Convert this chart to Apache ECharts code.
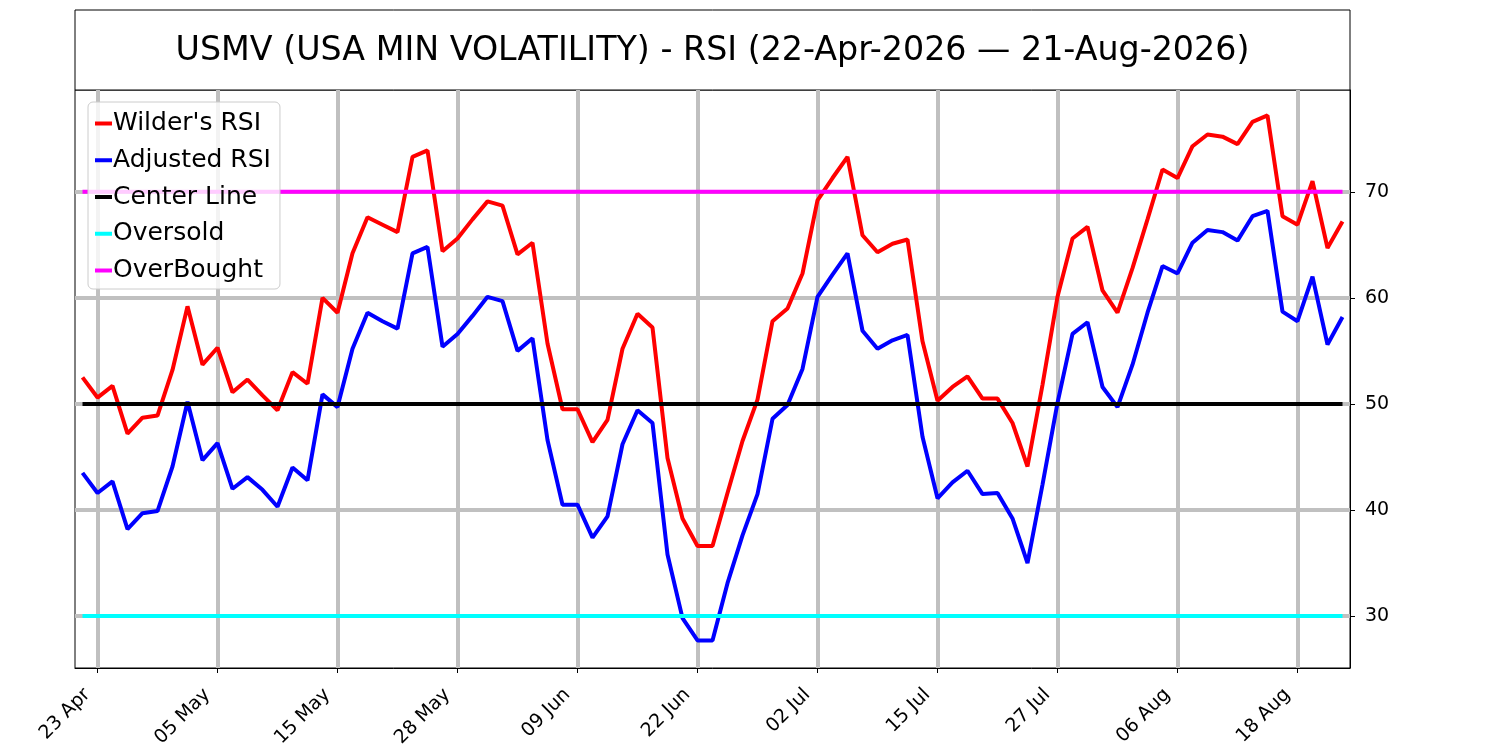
<!DOCTYPE html>
<html lang="en">
  <head>
    <meta charset="UTF-8" />
    <title>USMV RSI</title>
    <style>
      html, body { margin: 0; padding: 0; background: #fff; }
      #rsiChart { width: 1500px; height: 750px; }
    </style>
  </head>
  <body>
    <div id="rsiChart"></div>
    <script src="https://cdn.jsdelivr.net/npm/echarts@6/dist/echarts.min.js"></script>
    <script>
      // trading days 22 Apr - 21 Aug 2026
      var dates = [
        "22 Apr", "23 Apr", "24 Apr", "27 Apr", "28 Apr", "29 Apr", "30 Apr",
        "01 May", "04 May", "05 May", "06 May", "07 May", "08 May", "11 May",
        "12 May", "13 May", "14 May", "15 May", "18 May", "19 May", "20 May",
        "21 May", "22 May", "26 May", "27 May", "28 May", "29 May",
        "01 Jun", "02 Jun", "03 Jun", "04 Jun", "05 Jun", "08 Jun", "09 Jun",
        "10 Jun", "11 Jun", "12 Jun", "15 Jun", "16 Jun", "17 Jun", "18 Jun",
        "22 Jun", "23 Jun", "24 Jun", "25 Jun", "26 Jun", "29 Jun", "30 Jun",
        "01 Jul", "02 Jul", "06 Jul", "07 Jul", "08 Jul", "09 Jul", "10 Jul",
        "13 Jul", "14 Jul", "15 Jul", "16 Jul", "17 Jul", "20 Jul", "21 Jul",
        "22 Jul", "23 Jul", "24 Jul", "27 Jul", "28 Jul", "29 Jul", "30 Jul",
        "31 Jul", "03 Aug", "04 Aug", "05 Aug", "06 Aug", "07 Aug", "10 Aug",
        "11 Aug", "12 Aug", "13 Aug", "14 Aug", "17 Aug", "18 Aug", "19 Aug",
        "20 Aug", "21 Aug"
      ];

      var wildersRsi = [
        52.5, 50.6, 51.7, 47.2, 48.7, 48.9, 53.2, 59.2, 53.7, 55.3,
        51.1, 52.3, 50.8, 49.4, 53.0, 51.9, 60.0, 58.6, 64.2, 67.6,
        66.9, 66.2, 73.3, 73.9, 64.4, 65.6, 67.4, 69.1, 68.7, 64.1,
        65.2, 55.7, 49.5, 49.5, 46.4, 48.5, 55.2, 58.5, 57.2, 44.9,
        39.2, 36.6, 36.6, 41.6, 46.5, 50.4, 57.8, 59.0, 62.3, 69.2,
        71.3, 73.3, 65.9, 64.3, 65.1, 65.5, 55.9, 50.3, 51.6, 52.6,
        50.5, 50.5, 48.2, 44.1, 51.8, 60.1, 65.6, 66.7, 60.7, 58.6,
        62.8, 67.4, 72.1, 71.3, 74.3, 75.4, 75.2, 74.5, 76.6, 77.2,
        67.7, 66.9, 71.0, 64.7, 67.2
      ];

      var adjustedRsi = [
        43.5, 41.6, 42.7, 38.2, 39.7, 39.9, 44.1, 50.2, 44.7, 46.3,
        42.0, 43.1, 41.9, 40.3, 44.0, 42.8, 50.9, 49.7, 55.2, 58.6,
        57.8, 57.1, 64.2, 64.8, 55.4, 56.6, 58.3, 60.1, 59.7, 55.0,
        56.2, 46.6, 40.5, 40.5, 37.4, 39.4, 46.2, 49.4, 48.2, 35.8,
        29.8, 27.7, 27.7, 33.1, 37.6, 41.5, 48.6, 49.9, 53.3, 60.1,
        62.2, 64.2, 56.9, 55.2, 56.0, 56.5, 46.9, 41.1, 42.6, 43.7,
        41.5, 41.6, 39.2, 35.0, 42.4, 50.1, 56.6, 57.7, 51.6, 49.7,
        53.7, 58.6, 63.0, 62.3, 65.2, 66.4, 66.2, 65.4, 67.7, 68.2,
        58.7, 57.8, 62.0, 55.6, 58.2
      ];

      var centerLevel = 50;
      var oversoldLevel = 30;
      var overboughtLevel = 70;

      var fontFamily = "DejaVu Sans";
      var gridGray = "#c0c0c0";

      // a date tick every 8 trading days, starting with 23 Apr
      function everyEighth(index) {
        return index % 8 === 1;
      }

      function levelLine(level) {
        return dates.map(function () {
          return level;
        });
      }

      function lineSeries(name, data, color) {
        return {
          name: name,
          type: "line",
          data: data,
          showSymbol: false,
          symbol: "none",
          silent: true,
          lineStyle: { color: color, width: 4 },
          itemStyle: { color: color },
        };
      }

      var chart = echarts.init(document.getElementById("rsiChart"));

      var option = {
        animation: false,
        backgroundColor: "#fff",
        textStyle: { fontFamily: fontFamily },
        graphic: [
          {
            type: "rect",
            shape: { x: 75, y: 10, width: 1275, height: 80 },
            style: { fill: "#fff", stroke: "#000", lineWidth: 1 },
            z: 0,
          },
          {
            type: "text",
            x: 712.5,
            y: 51,
            style: {
              text: "USMV (USA MIN VOLATILITY) - RSI (22-Apr-2026 \u2014 21-Aug-2026)",
              fontSize: 33.3,
              fontFamily: fontFamily,
              fill: "#000",
              align: "center",
              verticalAlign: "middle",
            },
            z: 1,
          },
        ],
        legend: {
          orient: "vertical",
          left: 88,
          top: 102,
          padding: [9, 9, 6, 7],
          itemWidth: 17,
          itemHeight: 4,
          itemGap: 11.75,
          icon: "rect",
          backgroundColor: "rgba(255,255,255,0.8)",
          borderColor: "#cccccc",
          borderWidth: 1,
          borderRadius: 5,
          textStyle: {
            fontSize: 25,
            lineHeight: 25,
            color: "#000",
            fontFamily: fontFamily,
            padding: [0, 0, 0, -4],
          },
          data: ["Wilder's RSI", "Adjusted RSI", "Center Line", "Oversold", "OverBought"],
        },
        grid: {
          left: 75,
          right: 150,
          top: 90,
          bottom: 82,
          outerBoundsMode: "none",
          containLabel: false,
          show: true,
          borderColor: "#000",
          borderWidth: 1,
          backgroundColor: "transparent",
        },
        xAxis: {
          type: "category",
          data: dates,
          boundaryGap: true,
          axisLine: { show: true, lineStyle: { color: "#000", width: 1 } },
          axisTick: {
            show: true,
            alignWithLabel: true,
            interval: everyEighth,
            length: 5,
            lineStyle: { color: "#000", width: 1 },
          },
          axisLabel: {
            interval: everyEighth,
            rotate: 45,
            align: "right",
            verticalAlign: "bottom",
            padding: [0, 5, 0, 0],
            fontSize: 19,
            color: "#000",
            fontFamily: fontFamily,
            margin: 27,
          },
          splitLine: {
            show: true,
            alignWithLabel: true,
            interval: everyEighth,
            lineStyle: { color: gridGray, width: 4 },
          },
        },
        yAxis: {
          type: "value",
          position: "right",
          min: 25.1,
          max: 79.6,
          axisLine: { show: true, lineStyle: { color: "#000", width: 1 } },
          axisTick: { show: true, length: 5, lineStyle: { color: "#000", width: 1 } },
          axisLabel: {
            fontSize: 19,
            color: "#000",
            fontFamily: fontFamily,
            margin: 15,
            showMinLabel: false,
            showMaxLabel: false,
          },
          splitLine: {
            show: true,
            showMinLine: false,
            showMaxLine: false,
            lineStyle: { color: gridGray, width: 4 },
          },
        },
        series: [
          lineSeries("Wilder's RSI", wildersRsi, "#ff0000"),
          lineSeries("Adjusted RSI", adjustedRsi, "#0000ff"),
          lineSeries("Center Line", levelLine(centerLevel), "#000000"),
          lineSeries("Oversold", levelLine(oversoldLevel), "#00ffff"),
          lineSeries("OverBought", levelLine(overboughtLevel), "#ff00ff"),
        ],
      };

      chart.setOption(option);
      window.onresize = function () {
        chart.resize();
      };
    </script>
  </body>
</html>
